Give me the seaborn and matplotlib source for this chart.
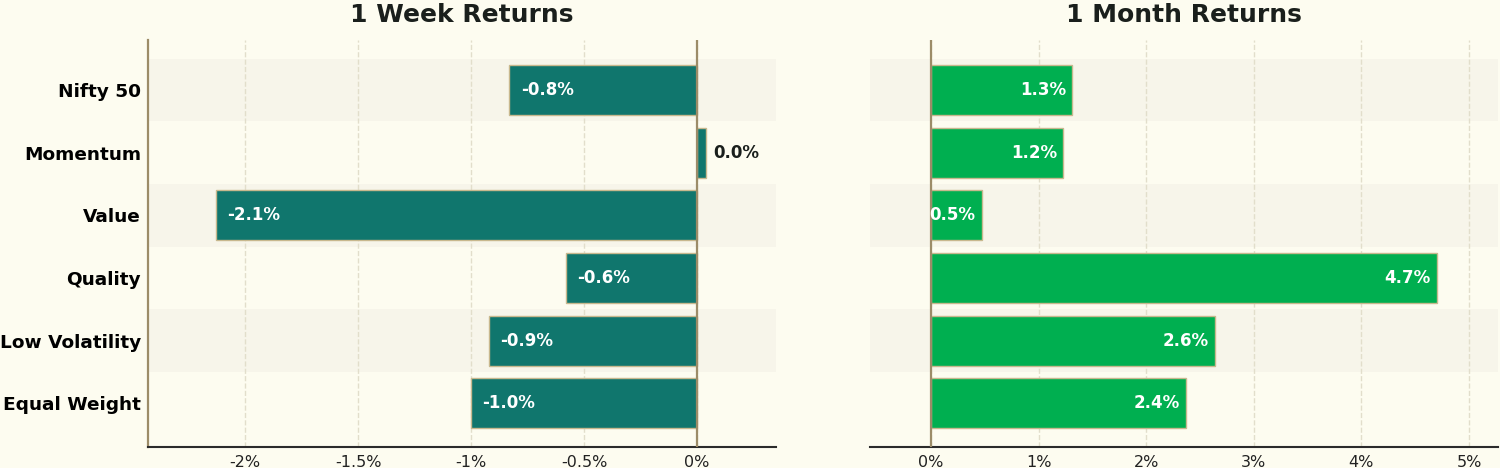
import pandas as pd
import matplotlib.pyplot as plt
import seaborn as sns

# data
indices = ['Nifty 50', 'Momentum', 'Value', 'Quality', 'Low Volatility', 'Equal Weight']
week_ret = [-0.83, 0.04, -2.13, -0.58, -0.92, -1.0]
month_ret = [1.31, 1.23, 0.47, 4.70, 2.64, 2.37]

BG = '#fdfcf0'
BAND = '#f7f5ea'
TEAL = '#10766d'
GREEN = '#00af50'
EDGE = '#c8b88e'
TAN = '#9c8c68'

sns.set_theme(style='white')
plt.rcParams['font.family'] = ['DejaVu Sans']

df = pd.DataFrame({'index': indices, 'week': week_ret, 'month': month_ret})

fig = plt.figure(figsize=(15, 4.68), dpi=100, facecolor=BG)
ax1 = fig.add_axes([148 / 1500, 21 / 468, 628 / 1500, 407 / 468])
ax2 = fig.add_axes([870 / 1500, 21 / 468, 628 / 1500, 407 / 468])


def draw(ax, col, color, title, xlim, ticks):
    ax.set_facecolor(BG)
    for i in range(0, len(indices), 2):
        ax.axhspan(i - 0.5, i + 0.5, color=BAND, zorder=0, lw=0)
    sns.barplot(data=df, x=col, y='index', ax=ax, color=color, width=0.8,
                edgecolor=EDGE, linewidth=1, saturation=1, zorder=3)
    ax.set_xlim(*xlim)
    ax.set_ylim(5.7, -0.8)
    ax.set_xticks(ticks)
    ax.set_xticklabels([f'{t:g}%' for t in ticks], fontsize=11.5, color='#222222')
    ax.grid(axis='x', linestyle='--', color='#e2decb', lw=1, zorder=1)
    ax.axvline(0, color=TAN, lw=1.6, zorder=4)
    ax.set_xlabel('')
    ax.set_ylabel('')
    ax.tick_params(length=0, pad=6)
    for s in ['top', 'right']:
        ax.spines[s].set_visible(False)
    ax.spines['bottom'].set_color('#2b2b2b')
    ax.spines['bottom'].set_linewidth(1.5)
    ax.set_title(title, fontsize=18, fontweight='bold', color='#1a1f1c', pad=13)
    span = xlim[1] - xlim[0]
    for i, v in enumerate(df[col]):
        lbl = f'{v:.1f}%'
        if v < 0:
            ax.text(v + span * 0.018, i, lbl, ha='left', va='center', color='white',
                    fontsize=12, fontweight='bold', zorder=5)
        elif col == 'week':
            ax.text(v + span * 0.011, i, lbl, ha='left', va='center', color='#1a1f1c',
                    fontsize=12, fontweight='bold', zorder=5)
        else:
            ax.text(v - span * 0.0095, i, lbl, ha='right', va='center', color='white',
                    fontsize=12, fontweight='bold', zorder=5)


draw(ax1, 'week', TEAL, '1 Week Returns', (-2.43, 0.35), [-2, -1.5, -1, -0.5, 0])
ax1.set_yticks(range(len(indices)))
ax1.set_yticklabels(indices, fontsize=13.3, fontweight='bold', color='black')
ax1.tick_params(axis='y', pad=5)
ax1.spines['left'].set_color(TAN)
ax1.spines['left'].set_linewidth(1.6)

draw(ax2, 'month', GREEN, '1 Month Returns', (-0.567, 5.27), [0, 1, 2, 3, 4, 5])
ax2.set_yticks([])
ax2.spines['left'].set_visible(False)

fig.savefig('out.png', dpi=100, facecolor=BG)
